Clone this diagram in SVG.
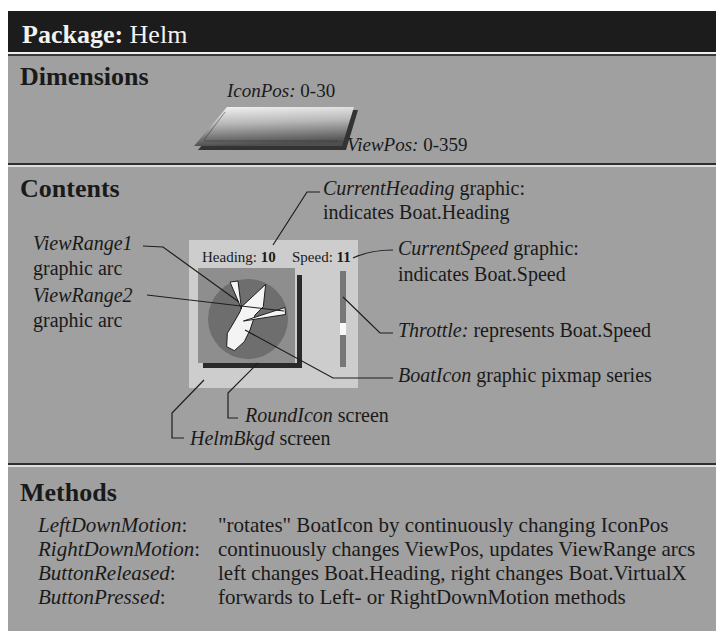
<svg xmlns="http://www.w3.org/2000/svg" width="716" height="631" viewBox="0 0 716 631">
  <style>
    text { font-family: "Liberation Serif", "Times New Roman", serif; fill: #1a1a1a; }
    .title { font-size: 26px; font-weight: bold; fill: #f2f2f2; }
    .head { font-size: 26px; font-weight: bold; }
    .body { font-size: 20px; }
    .meth { font-size: 21px; }
    .dim { font-size: 19px; }
    .small { font-size: 15px; }
    .it { font-style: italic; }
    .b { font-weight: bold; }
    .leader { fill: none; stroke: #1e1e1e; stroke-width: 1.2; }
    .wedge { fill: #f4f4f4; stroke: #1e1e1e; stroke-width: 1; stroke-linejoin: round; }
  </style>
  <defs>
    <linearGradient id="slab" x1="0" y1="0" x2="0.15" y2="1">
      <stop offset="0" stop-color="#f4f4f4"/>
      <stop offset="0.45" stop-color="#b8b8b8"/>
      <stop offset="1" stop-color="#4e4e4e"/>
    </linearGradient>
  </defs>

  <!-- page -->
  <rect x="0" y="0" width="716" height="631" fill="#ffffff"/>
  <rect x="8" y="56" width="708" height="575" fill="#a0a0a0"/>

  <!-- title bar -->
  <g id="header">
    <rect x="8" y="11" width="708" height="41" fill="#1c1c1c"/>
    <rect x="8" y="52" width="708" height="2" fill="#f0f0f0"/>
    <rect x="8" y="54" width="708" height="2" fill="#3a3a3a"/>
    <text class="title" x="22" y="43">Package:<tspan font-weight="normal"> Helm</tspan></text>
  </g>

  <!-- section dividers -->
  <g id="dividers">
    <rect x="8" y="163" width="708" height="2" fill="#2e2e2e"/>
    <rect x="8" y="165" width="708" height="2" fill="#dedede"/>
    <rect x="8" y="463" width="708" height="2" fill="#2e2e2e"/>
    <rect x="8" y="465" width="708" height="2" fill="#dedede"/>
  </g>

  <!-- Dimensions -->
  <g id="dimensions">
    <text class="head" x="20" y="85">Dimensions</text>
    <text class="dim" x="227" y="97"><tspan class="it">IconPos:</tspan> 0-30</text>
    <polygon points="231,110 358,110 346,150 198,150" fill="#333333"/>
    <polygon points="227,107 354,107 342,146 194,146" fill="url(#slab)"/>
    <path d="M225,112 L204,140 M204,141 L338,141" stroke="#2a2a2a" stroke-width="0.8" opacity="0.6" fill="none"/>
    <text class="dim" x="347" y="151"><tspan class="it">ViewPos:</tspan> 0-359</text>
  </g>

  <!-- Contents -->
  <g id="contents-title">
    <text class="head" x="20" y="197">Contents</text>
  </g>

  <g id="helm-bkgd">
    <rect x="189" y="240" width="169" height="148" fill="#cdcdcd"/>
    <text class="small" x="202" y="262">Heading: <tspan class="b">10</tspan></text>
    <text class="small" x="292" y="262">Speed: <tspan class="b">11</tspan></text>
  </g>

  <g id="round-icon">
    <rect x="198" y="268" width="97" height="95" fill="#8e8e8e"/>
    <rect x="297" y="275" width="5" height="93" fill="#2a2a2a"/>
    <rect x="203" y="363" width="99" height="5" fill="#2a2a2a"/>
    <circle cx="248" cy="319" r="40" fill="#6e6e6e"/>
  </g>

  <g id="boat-icon">
    <polygon class="wedge" points="265.7,284.3 263.3,306.7 255,315 250,330 244.3,341.7 234.3,350.7 226.7,346.7 227.3,333.3 234.3,321.7 240,311.7 241.7,306.7"/>
  </g>

  <g id="view-ranges">
    <polygon class="wedge" points="230,282 238,281 241.5,309"/>
    <polygon class="wedge" points="243.5,321 285,307.5 285.5,314.5"/>
  </g>

  <g id="throttle">
    <rect x="340" y="271" width="6" height="96" fill="#777777"/>
    <rect x="340" y="323" width="6" height="12" fill="#f8f8f8"/>
  </g>

  <!-- leader lines -->
  <g id="connectors">
    <path class="leader" d="M320,192 L307,192 L273,245"/>
    <path class="leader" d="M143,246 L163,247 L239,302"/>
    <path class="leader" d="M147,295 L284,311"/>
    <path class="leader" d="M353,258 Q370,250 393,250"/>
    <path class="leader" d="M343,297 L380,333 L393,333"/>
    <path class="leader" d="M245,330 L333,378 L393,378"/>
    <path class="leader" d="M258,363 L228,393 L228,418 L238,418"/>
    <path class="leader" d="M204,380 L172,413 L172,438 L184,438"/>
  </g>

  <g id="labels">
    <text class="body" x="323" y="195"><tspan class="it">CurrentHeading</tspan> graphic:</text>
    <text class="body" x="323" y="219">indicates Boat.Heading</text>
    <text class="body it" x="33" y="250">ViewRange1</text>
    <text class="body" x="33" y="275">graphic arc</text>
    <text class="body it" x="33" y="302">ViewRange2</text>
    <text class="body" x="33" y="327">graphic arc</text>
    <text class="body" x="398" y="255"><tspan class="it">CurrentSpeed</tspan> graphic:</text>
    <text class="body" x="398" y="281">indicates Boat.Speed</text>
    <text class="body" x="398" y="337"><tspan class="it">Throttle:</tspan> represents Boat.Speed</text>
    <text class="body" x="398" y="382"><tspan class="it">BoatIcon</tspan> graphic pixmap series</text>
    <text class="body" x="245" y="422"><tspan class="it">RoundIcon</tspan> screen</text>
    <text class="body" x="190" y="445"><tspan class="it">HelmBkgd</tspan> screen</text>
  </g>

  <!-- Methods -->
  <g id="methods">
    <text class="head" x="20" y="501">Methods</text>
    <text class="meth it" x="38" y="532">LeftDownMotion<tspan font-style="normal">:</tspan></text>
    <text class="meth" x="218" y="532">"rotates" BoatIcon by continuously changing IconPos</text>
    <text class="meth it" x="38" y="556">RightDownMotion<tspan font-style="normal">:</tspan></text>
    <text class="meth" x="218" y="556">continuously changes ViewPos, updates ViewRange arcs</text>
    <text class="meth it" x="38" y="580">ButtonReleased<tspan font-style="normal">:</tspan></text>
    <text class="meth" x="218" y="580">left changes Boat.Heading, right changes Boat.VirtualX</text>
    <text class="meth it" x="38" y="604">ButtonPressed<tspan font-style="normal">:</tspan></text>
    <text class="meth" x="218" y="604">forwards to Left- or RightDownMotion methods</text>
  </g>
</svg>
